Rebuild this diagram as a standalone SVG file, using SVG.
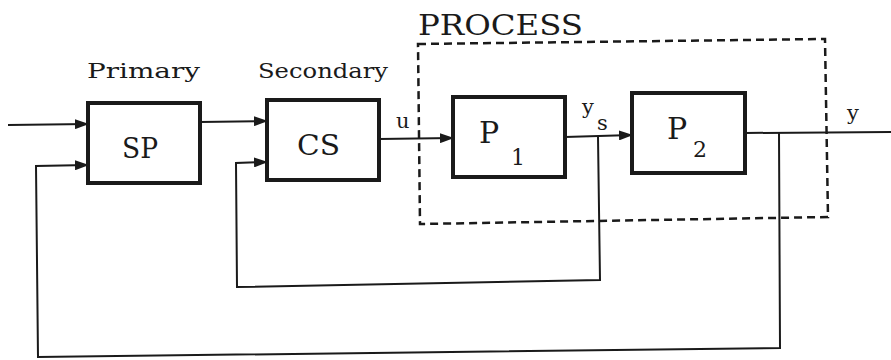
<svg xmlns="http://www.w3.org/2000/svg" width="891" height="360" viewBox="0 0 891 360">
<style>
.box{fill:#fff;stroke:#1a1a1a;stroke-width:4}
.ln{fill:none;stroke:#1a1a1a;stroke-width:2}
.dash{fill:none;stroke:#1a1a1a;stroke-width:2.5;stroke-dasharray:8 5}
text{font-family:"DejaVu Serif","Liberation Serif",serif;fill:#1a1a1a}
.lbl{font-size:21px}
.sub{font-size:22px}
.big{font-size:27px}
.pp{font-size:30px}
</style>
<defs>
<marker id="ah" markerUnits="userSpaceOnUse" markerWidth="14" markerHeight="10" refX="13" refY="5" orient="auto">
<path d="M0,0 L14,5 L0,10 Z" fill="#1a1a1a"/>
</marker>
</defs>
<rect width="891" height="360" fill="#fff"/>
<g id="process">
<polygon class="dash" points="418,44 825,39 828,217 420,224"/>
<text x="418" y="35" font-size="28" textLength="165" lengthAdjust="spacingAndGlyphs">PROCESS</text>
</g>
<g id="connectors">
<line class="ln" x1="8" y1="125" x2="88" y2="124" marker-end="url(#ah)"/>
<line class="ln" x1="200" y1="122" x2="267" y2="121" marker-end="url(#ah)"/>
<line class="ln" x1="379" y1="139" x2="453" y2="138" marker-end="url(#ah)"/>
<line class="ln" x1="565" y1="137" x2="632" y2="135" marker-end="url(#ah)"/>
<line class="ln" x1="745" y1="133" x2="891" y2="132"/>
<polyline class="ln" points="598,137 600,280 237,287 236,163 267,162" marker-end="url(#ah)"/>
<polyline class="ln" points="779,133 780,348 38,357 36,166 88,165" marker-end="url(#ah)"/>
</g>
<g id="SP">
<rect class="box" x="88" y="103" width="112" height="80"/>
<text class="big" x="122" y="158" textLength="36" lengthAdjust="spacingAndGlyphs">SP</text>
<text class="lbl" x="87" y="78" textLength="113" lengthAdjust="spacingAndGlyphs">Primary</text>
</g>
<g id="CS">
<rect class="box" x="267" y="100" width="112" height="80"/>
<text class="big" x="297" y="155" textLength="43" lengthAdjust="spacingAndGlyphs">CS</text>
<text class="lbl" x="258" y="78" textLength="130" lengthAdjust="spacingAndGlyphs">Secondary</text>
</g>
<g id="P1">
<rect class="box" x="453" y="97" width="112" height="80"/>
<text class="pp" x="479" y="143">P</text>
<text class="sub" x="511" y="165">1</text>
</g>
<g id="P2">
<rect class="box" x="632" y="93" width="113" height="80"/>
<text class="pp" x="667" y="139">P</text>
<text class="sub" x="693" y="157">2</text>
</g>
<g id="labels">
<text class="lbl" x="396" y="128">u</text>
<text class="lbl" x="582" y="114">y</text>
<text class="lbl" x="597" y="130">s</text>
<text class="lbl" x="847" y="120">y</text>
</g>
</svg>
